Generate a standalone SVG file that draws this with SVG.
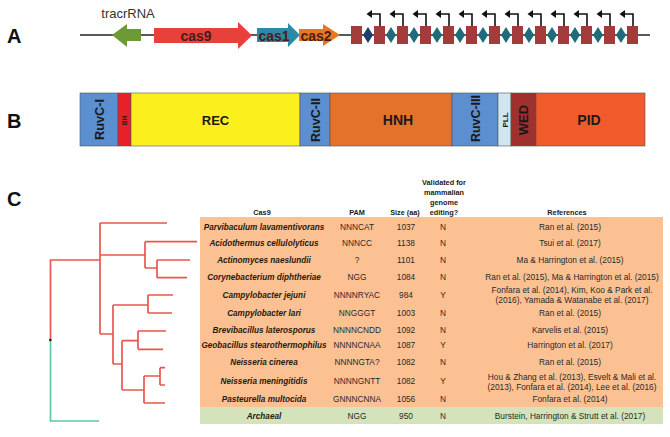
<svg xmlns="http://www.w3.org/2000/svg" xmlns:xlink="http://www.w3.org/1999/xlink" width="670" height="437" viewBox="0 0 670 437">
<style>
.lbl{font-family:"Liberation Sans",Arial,sans-serif;font-weight:bold;font-size:20px;fill:#111}
.gene{font-family:"Liberation Sans",Arial,sans-serif;font-weight:bold;font-size:14px;fill:#4a1c1c;text-anchor:middle}
.dom{font-family:"Liberation Sans",Arial,sans-serif;font-weight:bold;fill:#1a1a1a;text-anchor:middle}
.sp{font-family:"Liberation Sans",Arial,sans-serif;font-weight:bold;font-style:italic;font-size:8.2px;fill:#2a1a10;text-anchor:middle}
.td{font-family:"Liberation Sans",Arial,sans-serif;font-size:8.3px;fill:#2a2a2a;text-anchor:middle}
.th{font-family:"Liberation Sans",Arial,sans-serif;font-weight:bold;font-size:7.3px;fill:#1a1a1a;text-anchor:middle}
.tr{fill:none;stroke:#e8574e;stroke-width:1.7}
.sq{fill:#a33b3b}
.dia{fill:#1f6b7a}
.prom{fill:none;stroke:#111;stroke-width:1.6}
</style>
<defs>
<g id="pa">
<path class="prom" d="M0 0V-12H-9"/>
<path d="M-13.5 -12L-8 -16V-8Z" fill="#111"/>
</g>
</defs>
<text class="lbl" x="7" y="43">A</text>
<text class="lbl" x="7" y="128">B</text>
<text class="lbl" x="7" y="206">C</text>
<g id="panelA">
<line x1="80" y1="35" x2="650" y2="35" stroke="#222" stroke-width="1.6"/>
<g id="tracrRNA">
<path d="M112 35L127 24V29H141V41H127V47Z" fill="#6e9a35"/>
<text x="128" y="18" font-family="Liberation Sans,Arial,sans-serif" font-size="13" fill="#333" text-anchor="middle">tracrRNA</text>
</g>
<g id="cas9">
<path d="M154 28H238V22L252 35.5L238 49V43H154Z" fill="#e8403a"/>
<text class="gene" x="196" y="40.5">cas9</text>
</g>
<g id="cas1">
<path d="M257 28H288V23L300 35L288 47V42H257Z" fill="#2c8aa6"/>
<text class="gene" x="274" y="40.5" font-size="13.5">cas1</text>
</g>
<g id="cas2">
<path d="M299 29H323V24L340 35L323 46V41H299Z" fill="#e87722"/>
<text class="gene" x="316" y="40.5" font-size="13.5">cas2</text>
</g>
<g id="array">
<rect class="sq" x="351" y="26" width="11" height="18"/>
<rect class="sq" x="374" y="26" width="11" height="18"/>
<rect class="sq" x="397" y="26" width="11" height="18"/>
<rect class="sq" x="420" y="26" width="11" height="18"/>
<rect class="sq" x="443" y="26" width="11" height="18"/>
<rect class="sq" x="466" y="26" width="11" height="18"/>
<rect class="sq" x="489" y="26" width="11" height="18"/>
<rect class="sq" x="512" y="26" width="11" height="18"/>
<rect class="sq" x="535" y="26" width="11" height="18"/>
<rect class="sq" x="558" y="26" width="11" height="18"/>
<rect class="sq" x="581" y="26" width="11" height="18"/>
<rect class="sq" x="604" y="26" width="11" height="18"/>
<rect class="sq" x="627" y="26" width="11" height="18"/>
<path d="M368 27L373 35L368 43L363 35Z" fill="#1e3f6b"/>
<path class="dia" d="M391 27L396 35L391 43L386 35Z"/>
<path class="dia" d="M414 27L419 35L414 43L409 35Z"/>
<path class="dia" d="M437 27L442 35L437 43L432 35Z"/>
<path class="dia" d="M460 27L465 35L460 43L455 35Z"/>
<path class="dia" d="M483 27L488 35L483 43L478 35Z"/>
<path class="dia" d="M506 27L511 35L506 43L501 35Z"/>
<path class="dia" d="M529 27L534 35L529 43L524 35Z"/>
<path class="dia" d="M552 27L557 35L552 43L547 35Z"/>
<path class="dia" d="M575 27L580 35L575 43L570 35Z"/>
<path class="dia" d="M598 27L603 35L598 43L593 35Z"/>
<path class="dia" d="M621 27L626 35L621 43L616 35Z"/>
<use xlink:href="#pa" x="380" y="26"/>
<use xlink:href="#pa" x="403" y="26"/>
<use xlink:href="#pa" x="426" y="26"/>
<use xlink:href="#pa" x="449" y="26"/>
<use xlink:href="#pa" x="472" y="26"/>
<use xlink:href="#pa" x="495" y="26"/>
<use xlink:href="#pa" x="518" y="26"/>
<use xlink:href="#pa" x="541" y="26"/>
<use xlink:href="#pa" x="564" y="26"/>
<use xlink:href="#pa" x="587" y="26"/>
<use xlink:href="#pa" x="610" y="26"/>
<use xlink:href="#pa" x="633" y="26"/>
</g>
</g>
<g id="panelB" stroke="#555" stroke-width="0.6">
<rect x="80" y="93" width="38" height="53" fill="#5b8fd0"/>
<rect x="118" y="93" width="13" height="53" fill="#e8202a"/>
<rect x="131" y="93" width="169" height="53" fill="#fbef1e"/>
<rect x="300" y="93" width="30" height="53" fill="#5b8fd0"/>
<rect x="330" y="93" width="122" height="53" fill="#e3732a"/>
<rect x="452" y="93" width="46" height="53" fill="#5b8fd0"/>
<rect x="498" y="93" width="13" height="53" fill="#cfe6f0"/>
<rect x="511" y="93" width="25" height="53" fill="#a0302e"/>
<rect x="536" y="93" width="109" height="53" fill="#f15a2b"/>
<g stroke="none">
<text class="dom" transform="translate(103.5 119.5) rotate(-90)" font-size="12.5" textLength="41" lengthAdjust="spacingAndGlyphs">RuvC-I</text>
<text class="dom" transform="translate(127 120.5) rotate(-90)" font-size="6.5">BH</text>
<text class="dom" x="215.5" y="124.5" font-size="13">REC</text>
<text class="dom" transform="translate(319.5 120) rotate(-90)" font-size="12.5" textLength="44" lengthAdjust="spacingAndGlyphs">RuvC-II</text>
<text class="dom" x="398" y="125" font-size="14">HNH</text>
<text class="dom" transform="translate(479.5 118.5) rotate(-90)" font-size="12.5" textLength="47" lengthAdjust="spacingAndGlyphs">RuvC-III</text>
<text class="dom" transform="translate(507.5 120) rotate(-90)" font-size="8">PLL</text>
<text class="dom" transform="translate(528 120) rotate(-90)" font-size="13">WED</text>
<text class="dom" x="589" y="125" font-size="14">PID</text>
</g>
</g>
<g id="table">
<rect x="200" y="217" width="463" height="190" fill="#fbc192"/>
<rect x="200" y="407" width="463" height="17" fill="#d5e3bc"/>
<text class="th" x="262" y="215">Cas9</text>
<text class="th" x="357" y="215">PAM</text>
<text class="th" x="405" y="215">Size (aa)</text>
<text class="th" x="444" y="184.5">Validated for</text>
<text class="th" x="444" y="194.5">mammalian</text>
<text class="th" x="444" y="204.5">genome</text>
<text class="th" x="444" y="215">editing?</text>
<text class="th" x="567" y="215">References</text>
<g id="r1"><text class="sp" x="264" y="229.5">Parvibaculum lavamentivorans</text><text class="td" x="357" y="229.5">NNNCAT</text><text class="td" x="406" y="229.5">1037</text><text class="td" x="443" y="229.5">N</text><text class="td" x="570" y="229.5">Ran et al. (2015)</text></g>
<g id="r2"><text class="sp" x="264" y="246">Acidothermus cellulolyticus</text><text class="td" x="357" y="246">NNNCC</text><text class="td" x="406" y="246">1138</text><text class="td" x="443" y="246">N</text><text class="td" x="570" y="246">Tsui et al. (2017)</text></g>
<g id="r3"><text class="sp" x="264" y="262.8">Actinomyces naeslundii</text><text class="td" x="357" y="262.8">?</text><text class="td" x="406" y="262.8">1101</text><text class="td" x="443" y="262.8">N</text><text class="td" x="570" y="262.8">Ma &amp; Harrington et al. (2015)</text></g>
<g id="r4"><text class="sp" x="264" y="279.5">Corynebacterium diphtheriae</text><text class="td" x="357" y="279.5">NGG</text><text class="td" x="406" y="279.5">1084</text><text class="td" x="443" y="279.5">N</text><text class="td" x="572" y="279.5">Ran et al. (2015), Ma &amp; Harrington et al. (2015)</text></g>
<g id="r5"><text class="sp" x="264" y="297.8">Campylobacter jejuni</text><text class="td" x="357" y="297.8">NNNNRYAC</text><text class="td" x="406" y="297.8">984</text><text class="td" x="443" y="297.8">Y</text><text class="td" x="572" y="292.8">Fonfara et al. (2014), Kim, Koo &amp; Park et al.</text><text class="td" x="572" y="303.3">(2016), Yamada &amp; Watanabe et al. (2017)</text></g>
<g id="r6"><text class="sp" x="264" y="316">Campylobacter lari</text><text class="td" x="357" y="316">NNGGGT</text><text class="td" x="406" y="316">1003</text><text class="td" x="443" y="316">N</text><text class="td" x="570" y="316">Ran et al. (2015)</text></g>
<g id="r7"><text class="sp" x="264" y="332.5">Brevibacillus laterosporus</text><text class="td" x="357" y="332.5">NNNNCNDD</text><text class="td" x="406" y="332.5">1092</text><text class="td" x="443" y="332.5">N</text><text class="td" x="570" y="332.5">Karvelis et al. (2015)</text></g>
<g id="r8"><text class="sp" x="264" y="348">Geobacillus stearothermophilus</text><text class="td" x="357" y="348">NNNNCNAA</text><text class="td" x="406" y="348">1087</text><text class="td" x="443" y="348">Y</text><text class="td" x="570" y="348">Harrington et al. (2017)</text></g>
<g id="r9"><text class="sp" x="264" y="364.5">Neisseria cinerea</text><text class="td" x="357" y="364.5">NNNNGTA?</text><text class="td" x="406" y="364.5">1082</text><text class="td" x="443" y="364.5">N</text><text class="td" x="570" y="364.5">Ran et al. (2015)</text></g>
<g id="r10"><text class="sp" x="264" y="384">Neisseria meningitidis</text><text class="td" x="357" y="384">NNNNGNTT</text><text class="td" x="406" y="384">1082</text><text class="td" x="443" y="384">Y</text><text class="td" x="572" y="379.5">Hou &amp; Zhang et al. (2013), Esvelt &amp; Mali et al.</text><text class="td" x="572" y="390">(2013), Fonfara et al. (2014), Lee et al. (2016)</text></g>
<g id="r11"><text class="sp" x="264" y="402">Pasteurella multocida</text><text class="td" x="357" y="402">GNNNCNNA</text><text class="td" x="406" y="402">1056</text><text class="td" x="443" y="402">N</text><text class="td" x="570" y="402">Fonfara et al. (2014)</text></g>
<g id="r12"><text class="sp" x="264" y="418.8">Archaeal</text><text class="td" x="357" y="418.8">NGG</text><text class="td" x="406" y="418.8">950</text><text class="td" x="443" y="418.8">N</text><text class="td" x="570" y="418.8">Burstein, Harrington &amp; Strutt et al. (2017)</text></g>
</g>
<g id="tree">
<path class="tr" d="M50.5 340V260H100 M100 223V334 M100 223H167 M100 255H145 M100 334H113 M145 241.7V268 M145 241.7H197 M145 268H157 M157 260V277.7 M157 260H190 M157 277.7H187 M113 305V364 M113 305H148 M113 364H122 M148 295V313 M148 295H173 M148 313H172 M122 340.7V390 M122 340.7H138 M122 390H144 M138 331V349.3 M138 331H166 M138 349.3H163 M144 376V403 M144 376H160 M144 403H165 M160 367.7V385 M160 367.7H165 M160 385H165"/>
<path d="M50.5 340V421H99" fill="none" stroke="#5ec9a2" stroke-width="1.7"/>
<circle cx="50.3" cy="340" r="1.3" fill="#222"/>
</g>
</svg>
